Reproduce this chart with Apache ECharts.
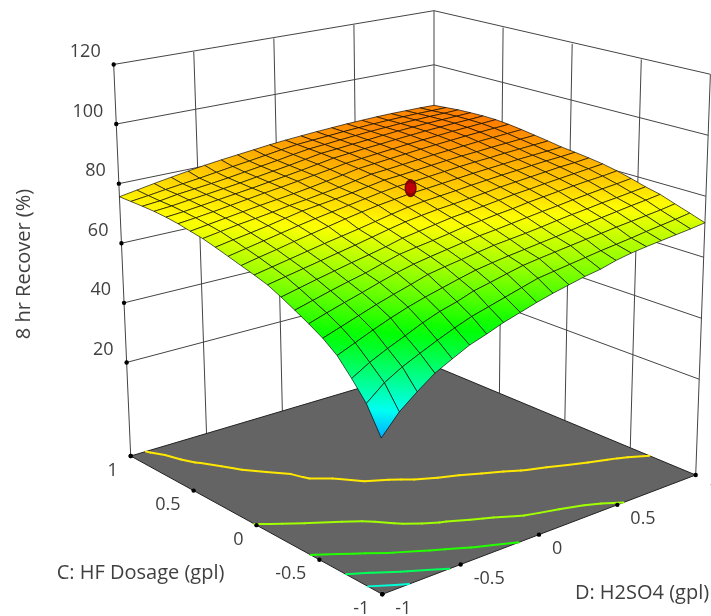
<!DOCTYPE html>
<html><head><meta charset="utf-8">
<script src="https://cdn.jsdelivr.net/npm/echarts@6/dist/echarts.min.js"></script>
<style>html,body{margin:0;padding:0;background:#fff;overflow:hidden}#c{width:711px;height:616px}</style>
</head><body><div id="c"></div>
<script>
// ---- data -----
const cLevels = [1,.9,.8,.7,.6,.5,.4,.3,.2,.1,0,-.1,-.2,-.3,-.4,-.5,-.6,-.7,-.8,-.9,-1];
const dLevels = [-1,-.9,-.8,-.7,-.6,-.5,-.4,-.3,-.2,-.1,0,.1,.2,.3,.4,.5,.6,.7,.8,.9,1];
const recover = [
[75.6,76.6,77.6,78.5,79.4,80.2,80.9,81.5,82.1,82.7,83.2,83.6,84,84.3,84.6,84.8,85,85.1,85.1,85.1,85],
[75.5,76.2,77,77.7,78.4,79.2,80,80.7,81.5,82.3,83,83.4,83.8,84.2,84.5,84.8,85,85.2,85.3,85.3,85.4],
[75.4,75.9,76.8,77.4,78,78.7,79.5,80.3,81.1,82,82.8,83.2,83.7,84.1,84.5,84.8,85.1,85.3,85.5,85.6,85.8],
[75.2,75.7,76.4,77,77.7,78.4,79.2,80,80.8,81.7,82.6,83,83.5,83.9,84.4,84.8,85.1,85.4,85.6,85.8,86],
[74.8,75.3,76,76.7,77.4,78.1,78.9,79.7,80.5,81.4,82.3,82.8,83.3,83.7,84.2,84.6,85,85.3,85.6,85.8,86.1],
[74.2,74.8,75.5,76.3,77.1,77.9,78.6,79.4,80.2,81,81.9,82.4,82.9,83.4,83.9,84.3,84.7,85.1,85.4,85.7,86],
[73.3,74.1,74.9,75.7,76.5,77.2,77.9,78.7,79.6,80.5,81.5,82,82.5,83,83.5,83.9,84.3,84.7,85,85.3,85.6],
[72.5,73.4,74.3,75,75.8,76.7,77.4,78.2,79,80,81,81.4,81.9,82.4,82.9,83.3,83.7,84.1,84.4,84.7,85],
[71.3,72.3,73.2,74.2,75.3,76.4,77.1,77.8,78.6,79.5,80.4,80.8,81.3,81.8,82.3,82.7,83,83.4,83.7,84,84.3],
[70,71.1,72.2,73.3,74.4,75.4,76.3,77.2,78.1,79,79.7,80.1,80.6,81.1,81.6,82,82.3,82.7,83,83.3,83.6],
[68.7,69.9,71,72.2,73.3,74.4,75.5,76.5,77.4,78.1,78.8,79.2,79.7,80.2,80.7,81.1,81.5,81.9,82.2,82.5,82.8],
[67.4,68.5,69.6,70.7,71.8,72.8,73.8,74.9,76,77,77.7,78.2,78.7,79.3,79.8,80.3,80.7,81.2,81.6,81.9,82.3],
[66,67.1,68.2,69.3,70.4,71.5,72.7,73.9,75,75.8,76.5,77,77.6,78.2,78.9,79.4,79.9,80.4,80.9,81.2,81.7],
[63.9,65.2,66.5,67.7,68.9,70,71.2,72.6,73.5,74.4,75.3,75.9,76.5,77.2,77.9,78.4,79,79.5,80,80.5,81],
[61.6,63.1,64.6,66,67.3,68.9,70.4,71.3,72.1,73,74,74.6,75.3,75.9,76.7,77.3,77.9,78.5,79,79.4,80],
[59.2,61,62.7,64.3,66,67.6,68.9,69.9,70.8,71.7,72.5,73.1,73.8,74.5,75.2,75.8,76.5,77.1,77.7,78.2,78.8],
[56.6,58.5,60.4,62.3,64,65.6,67.3,68.3,69.2,70.1,71,71.6,72.2,72.9,73.7,74.4,75,75.7,76.2,76.8,77.4],
[53.2,55.5,57.8,59.9,61.8,63.4,64.8,66.2,67.5,68.4,69.2,69.9,70.6,71.3,72.1,72.9,73.6,74.3,75,75.6,76.3],
[48.2,51.4,54,56.3,58.7,60.7,62.2,64.1,65.3,66.6,67.8,68.6,69.3,70,70.7,71.3,72,72.6,73.2,73.8,74.6],
[42.7,47.2,50.3,52.8,55.2,57.4,59.4,60.9,62.4,63.9,65.4,66.2,67,67.8,68.6,69.3,70,70.8,71.5,72.2,73],
[34.5,40.5,44.8,48.7,51.4,54,55.8,57.8,59.4,61,62.4,63.6,64.8,65.7,67.1,68.1,68.8,69.4,70,70.6,71.3]
];
const contourLevels = [42.7,51,59.5,68,76.5];
const zTicks = [20,40,60,80,100,120];
const cTicks = [1,.5,0,-.5,-1];
const dTicks = [-1,-.5,0,.5,1];
const designPoints = [[0,0,80.6]];
const zTitle = '8 hr Recover (%)', cTitle = 'C: HF Dosage (gpl)', dTitle = 'D: H2SO4 (gpl)';

// ---- cameras, used through the hidden pixel axes -----
// the frame and its ticks are evenly spaced along each edge; the mesh is in true perspective
const Z0 = -11.4, ZMAX = 120;
const FLOOR = {F:[382.3,594.3], R:[695.7,475], L:[130.7,456], B:[434,366]};
function raise(fx, fy, s, t, z) {
  const H = z - Z0, S = 1 / (.2937 + .0342 * s + .0419 * t);
  return [fx + (fx - 434) * .000427 * H, fy - H * S];
}
function projectFrame(C, D, z) {
  const s = (D + 1) / 2, t = (C + 1) / 2;
  const mix = k => FLOOR.F[k]*(1-s)*(1-t) + FLOOR.R[k]*s*(1-t) + FLOOR.L[k]*(1-s)*t + FLOOR.B[k]*s*t;
  return raise(mix(0), mix(1), s, t, z);
}
function projectMesh(C, D, z) {
  const s = (D + 1) / 2, t = (C + 1) / 2;
  const w = .14092 * s + .15489 * t + 1;
  return raise((411.44 * s - 231.36 * t + 382.3) / w, (-52.36 * s - 67.67 * t + 594.3) / w, s, t, z);
}
// ---- colour ramp -----
const ramp = [[23,[0,0,255]],[40,[0,255,255]],[57,[0,255,0]],[74.5,[255,255,0]],[97,[255,0,0]]];
function colorAt(z) {
  for (let i = 1; i < ramp.length; i++) if (z <= ramp[i][0]) {
    const a = ramp[i-1], b = ramp[i], k = Math.max(0, (z - a[0]) / (b[0] - a[0]));
    return 'rgb(' + a[1].map((v, n) => Math.round(v + (b[1][n] - v) * k)).join(',') + ')';
  }
  return 'rgb(255,0,0)';
}
const TICK_FONT = '18px "Open Sans", sans-serif', TITLE_FONT = '20px "Open Sans", sans-serif', TXT = '#404040';

// ---- derived tables for the library -----
const cellData = [];
for (let i = 0; i < cLevels.length - 1; i++) for (let j = 0; j < dLevels.length - 1; j++) cellData.push([i, j]);
cellData.sort((a, b) => (a[0] + 19 - a[1]) - (b[0] + 19 - b[1]));

const wallData = [];
zTicks.forEach(z => {
  wallData.push([1,-1,z,1,1,z]);
  wallData.push([1,1,z,-1,1,z]);
});
dTicks.forEach(d => wallData.push([1,d,Z0,1,d,ZMAX]));
cTicks.forEach(c => { if (c !== 1) wallData.push([c,1,Z0,c,1,ZMAX]); });

const contourData = [];
contourLevels.forEach(L => {
  for (let i = 0; i < 20; i++) for (let j = 0; j < 20; j++) {
    const pts = [];
    const edge = (i1,j1,i2,j2) => {
      const a = recover[i1][j1], b = recover[i2][j2];
      if ((a < L) !== (b < L)) {
        const k = (L - a) / (b - a);
        pts.push([cLevels[i1] + (cLevels[i2]-cLevels[i1])*k, dLevels[j1] + (dLevels[j2]-dLevels[j1])*k]);
      }
    };
    edge(i,j,i,j+1); edge(i,j+1,i+1,j+1); edge(i+1,j+1,i+1,j); edge(i+1,j,i,j);
    if (pts.length >= 2) contourData.push([pts[0][0],pts[0][1],pts[1][0],pts[1][1],L]);
  }
});

const tickDots = [];
zTicks.forEach(z => tickDots.push([1,-1,z]));
cTicks.forEach(c => tickDots.push([c,-1,Z0]));
dTicks.forEach(d => tickDots.push([-1,d,Z0]));
tickDots.push([1,-1,Z0]);

const labelData = [];
zTicks.forEach(z => labelData.push([1,-1,z,String(z),-13,-12.5,'right']));
cTicks.forEach(c => labelData.push([c,-1,Z0,String(c),-13,14.5,'right']));
dTicks.forEach(d => labelData.push([-1,d,Z0,String(d),13,14.5,'left']));

const px = (api, p) => api.coord(p);

const chart = echarts.init(document.getElementById('c'), null, {renderer:'canvas'});
chart.setOption({
  animation:false,
  backgroundColor:'#fff',
  grid:{left:0,right:0,top:0,bottom:0},
  xAxis:{type:'value',min:0,max:711,show:false},
  yAxis:{type:'value',min:0,max:616,inverse:true,show:false},
  tooltip:{show:false},
  series:[
  { type:'custom', name:'walls', z:1, clip:false, silent:true, data:wallData,
    renderItem:(p,api)=>{ const r=wallData[p.dataIndex];
      const a=px(api,projectFrame(r[0],r[1],r[2])), b=px(api,projectFrame(r[3],r[4],r[5]));
      return {type:'line',shape:{x1:a[0],y1:a[1],x2:b[0],y2:b[1]},style:{stroke:'#444',lineWidth:1}}; } },
  { type:'custom', name:'floor', z:2, clip:false, silent:true, data:[[0]],
    renderItem:(p,api)=>{ const pts=[[-1,-1],[-1,1],[1,1],[1,-1]].map(q=>px(api,projectFrame(q[0],q[1],Z0)));
      return {type:'polygon',shape:{points:pts},style:{fill:'#646464',stroke:'#222',lineWidth:1}}; } },
  { type:'custom', name:'contours', z:3, clip:false, silent:true, data:contourData,
    renderItem:(p,api)=>{ const r=contourData[p.dataIndex];
      const a=px(api,projectMesh(r[0],r[1],Z0)), b=px(api,projectMesh(r[2],r[3],Z0));
      return {type:'line',shape:{x1:a[0],y1:a[1],x2:b[0],y2:b[1]},style:{stroke:colorAt(r[4]),lineWidth:2,lineCap:'round'}}; } },
  { type:'custom', name:'ticks', z:4, clip:false, silent:true, data:tickDots,
    renderItem:(p,api)=>{ const r=tickDots[p.dataIndex]; const a=px(api,projectFrame(r[0],r[1],r[2]));
      return {type:'circle',shape:{cx:a[0],cy:a[1],r:2.2},style:{fill:'#000'}}; } },
  { type:'custom', name:'surface', z:5, clip:false, silent:true, data:cellData,
    renderItem:(p,api)=>{ const [i,j]=cellData[p.dataIndex];
      const nodes=[[i,j],[i,j+1],[i+1,j+1],[i+1,j]].map(n=>{
        const z=recover[n[0]][n[1]];
        return {z,pt:px(api,projectMesh(cLevels[n[0]],dLevels[n[1]],z))};
      });
      let lo=nodes[0],hi=nodes[0]; nodes.forEach(n=>{ if(n.z<lo.z)lo=n; if(n.z>hi.z)hi=n; });
      const mid=(lo.z+hi.z)/2;
      return {type:'polygon',shape:{points:nodes.map(n=>n.pt)},
        style:{fill:{type:'linear',global:true,x:lo.pt[0],y:lo.pt[1],x2:hi.pt[0]+.01,y2:hi.pt[1]+.01,
          colorStops:[{offset:0,color:colorAt(lo.z)},{offset:.5,color:colorAt(mid)},{offset:1,color:colorAt(hi.z)}]},
          stroke:'rgba(0,0,0,.72)',lineWidth:.9}}; } },
  { type:'custom', name:'design point', z:6, clip:false, silent:true, data:designPoints,
    renderItem:(p,api)=>{ const r=designPoints[p.dataIndex]; const a=px(api,projectMesh(r[0],r[1],r[2]));
      return {type:'group',children:[
        {type:'ellipse',shape:{cx:a[0],cy:a[1],rx:5.6,ry:8.6},style:{fill:'#8f0000',stroke:'#3a0000',lineWidth:.7}},
        {type:'circle',shape:{cx:a[0],cy:a[1],r:5},style:{fill:'#c00008'}}
      ]}; } },
  { type:'custom', name:'labels', z:7, clip:false, silent:true, data:labelData,
    renderItem:(p,api)=>{ const r=labelData[p.dataIndex]; const a=px(api,projectFrame(r[0],r[1],r[2]));
      return {type:'text',x:a[0]+r[4],y:a[1]+r[5],style:{text:r[3],fill:TXT,font:TICK_FONT,align:r[6],verticalAlign:'middle'}}; } },
  { type:'custom', name:'titles', z:7, clip:false, silent:true, data:[[24,264,zTitle],[140.5,573,cTitle],[642,593,dTitle]],
    renderItem:(p,api)=>{ const a=api.coord([api.value(0),api.value(1)]);
      const t=[zTitle,cTitle,dTitle][p.dataIndex], rot=p.dataIndex===0?Math.PI/2:0;
      return {type:'text',x:a[0],y:a[1],rotation:rot,style:{text:t,fill:TXT,font:TITLE_FONT,align:'center',verticalAlign:'middle'}}; } }
  ]
});
</script></body></html>
